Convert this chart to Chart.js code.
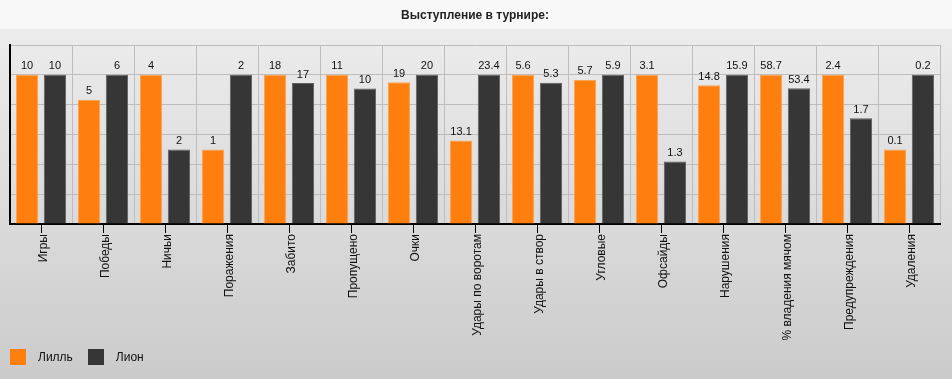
<!DOCTYPE html>
<html>
<head>
<meta charset="utf-8">
<script src="https://cdn.jsdelivr.net/npm/chart.js@4/dist/chart.umd.min.js"></script>
<style>
  html, body { margin: 0; padding: 0; }
  #wrap {
    position: relative; width: 952px; height: 379px; overflow: hidden;
    background: linear-gradient(to bottom, #f8f8f8 0px, #f8f8f8 29px, #ececec 29px, #cbcbcb 379px);
    font-family: "Liberation Sans", Arial, sans-serif;
  }
  #c { position: absolute; left: 0; top: 0; }
  #legend { position: absolute; left: 10px; top: 349px; display: flex; align-items: center; font-size: 12px; color: #111; }
  #legend .item { display: flex; align-items: center; margin-right: 15px; }
  #legend .box { width: 16px; height: 16px; margin-right: 12px; }
</style>
</head>
<body>
<div id="wrap">
  <canvas id="c" width="952" height="379"></canvas>
  <div id="legend"></div>
</div>
<script>
const titleText = 'Выступление в турнире:';
const categories = ['Игры', 'Победы', 'Ничьи', 'Поражения', 'Забито', 'Пропущено', 'Очки',
  'Удары по воротам', 'Удары в створ', 'Угловые', 'Офсайды', 'Нарушения',
  '% владения мячом', 'Предупреждения', 'Удаления'];
const seriesNames = ['Лилль', 'Лион'];
const lilleValues = [10, 5, 4, 1, 18, 11, 19, 13.1, 5.6, 5.7, 3.1, 14.8, 58.7, 2.4, 0.1];
const lyonValues  = [10, 6, 2, 2, 17, 10, 20, 23.4, 5.3, 5.9, 1.3, 15.9, 53.4, 1.7, 0.2];
const yTicks = [0, 0.2, 0.4, 0.6, 0.8, 1.0, 1.2];

// bars are drawn relative to the larger value of each category
const share = (a, b) => a.map((v, i) => v / Math.max(v, b[i]));
const lilleShare = share(lilleValues, lyonValues);
const lyonShare = share(lyonValues, lilleValues);

const valueLabels = {
  id: 'valueLabels',
  afterDatasetsDraw(chart) {
    const ctx = chart.ctx;
    ctx.save();
    ctx.font = '11px "Liberation Sans", Arial, sans-serif';
    ctx.fillStyle = '#111';
    ctx.textAlign = 'center';
    ctx.textBaseline = 'bottom';
    chart.data.datasets.forEach((ds, di) => {
      chart.getDatasetMeta(di).data.forEach((bar, i) => {
        ctx.fillText(String(ds.rawValues[i]), bar.x, bar.y - 3);
      });
    });
    ctx.restore();
  }
};

const centerTicks = {
  id: 'centerTicks',
  afterDraw(chart) {
    const ctx = chart.ctx, x = chart.scales.x, bottom = chart.chartArea.bottom;
    ctx.save();
    ctx.strokeStyle = '#000';
    ctx.lineWidth = 1;
    x.ticks.forEach((t, i) => {
      const px = Math.round(x.getPixelForTick(i)) + 0.5;
      ctx.beginPath();
      ctx.moveTo(px, bottom);
      ctx.lineTo(px, bottom + 9);
      ctx.stroke();
    });
    ctx.restore();
  }
};

const htmlLegend = {
  id: 'htmlLegend',
  afterUpdate(chart) {
    const el = document.getElementById('legend');
    el.innerHTML = '';
    chart.data.datasets.forEach(ds => {
      const item = document.createElement('div'); item.className = 'item';
      const box = document.createElement('span'); box.className = 'box'; box.style.background = ds.backgroundColor;
      const txt = document.createElement('span'); txt.textContent = ds.label;
      item.appendChild(box); item.appendChild(txt); el.appendChild(item);
    });
  }
};

new Chart(document.getElementById('c'), {
  type: 'bar',
  data: {
    labels: categories,
    datasets: [
      { label: seriesNames[0], data: lilleShare, rawValues: lilleValues,
        backgroundColor: '#ff7f0e', borderColor: '#f9a350', borderWidth: 1 },
      { label: seriesNames[1], data: lyonShare, rawValues: lyonValues,
        backgroundColor: '#363636', borderColor: '#5e5e5e', borderWidth: 1 }
    ]
  },
  options: {
    responsive: false,
    animation: false,
    devicePixelRatio: 1,
    layout: { padding: { left: 10, right: 12, top: 0, bottom: 0 } },
    datasets: { bar: { categoryPercentage: 0.9, barPercentage: 0.8 } },
    plugins: {
      legend: { display: false },
      tooltip: { enabled: false },
      title: {
        display: true, text: titleText, color: '#222',
        font: { family: '"Liberation Sans", Arial, sans-serif', size: 12, weight: 'bold' },
        padding: { top: 8, bottom: 22.6 }
      }
    },
    scales: {
      x: {
        offset: true,
        grid: { offset: true, color: '#bdbdbd', lineWidth: 1, drawTicks: false },
        border: { display: true, color: '#000', width: 2 },
        ticks: {
          autoSkip: false, minRotation: 90, maxRotation: 90, padding: 10, labelOffset: 3, color: '#111',
          font: { family: '"Liberation Sans", Arial, sans-serif', size: 12 }
        },
        afterFit(scale) { scale.height = 155; }
      },
      y: {
        min: 0, max: 1.2,
        afterBuildTicks(scale) { scale.ticks = yTicks.map(v => ({ value: v })); },
        grid: { color: '#bdbdbd', lineWidth: 1, drawTicks: false },
        border: { display: true, color: '#000', width: 2 },
        ticks: { display: false }
      }
    }
  },
  plugins: [valueLabels, centerTicks, htmlLegend]
});
</script>
</body>
</html>
